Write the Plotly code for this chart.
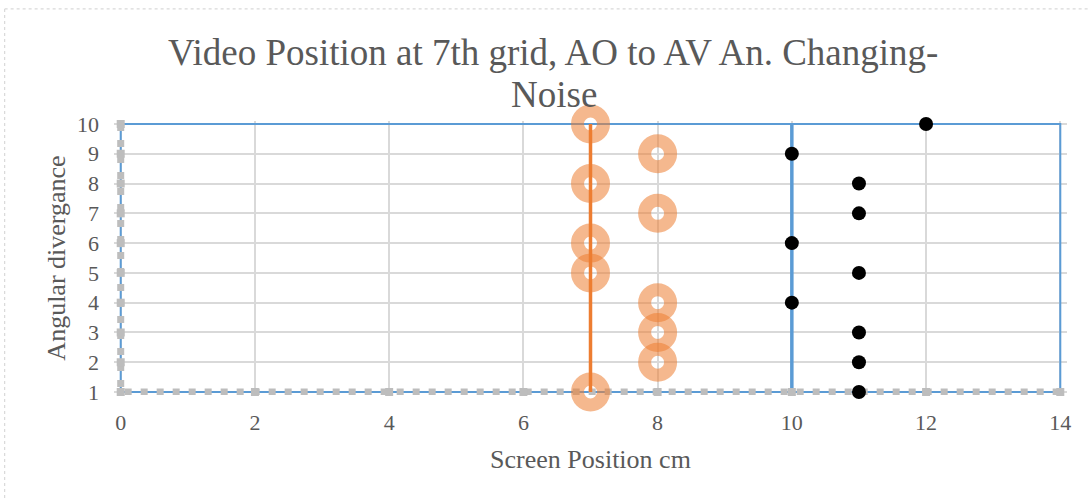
import plotly.graph_objects as go

# Data series (screen position cm, angular divergence)
orange_x = [7, 7, 7, 7, 7, 8, 8, 8, 8, 8]
orange_y = [10, 8, 6, 5, 1, 9, 7, 4, 3, 2]

black_x = [10, 10, 10, 11, 11, 11, 11, 11, 11, 12]
black_y = [9, 6, 4, 8, 7, 5, 3, 2, 1, 10]

# Reference lines
orange_line_x = [7, 7]
orange_line_y = [1, 10]

blue_frame_x = [0, 0, 14, 14, 0]
blue_frame_y = [1, 10, 10, 1, 1]
blue_line_x = [10, 10]
blue_line_y = [1, 10]

gray_x = [0, 0, 0, 0, 0, 0, 0, 0, 0, 0, 2, 4, 6, 8, 10, 12, 14]
gray_y = [10, 9, 8, 7, 6, 5, 4, 3, 2, 1, 1, 1, 1, 1, 1, 1, 1]

x_ticks = [0, 2, 4, 6, 8, 10, 12, 14]
y_ticks = [1, 2, 3, 4, 5, 6, 7, 8, 9, 10]

W, H = 1089, 500
# pixel positions of the data frame (x 0..14, y 1..10)
X0, X1, Y_TOP, Y_BOT = 121, 1060, 124, 392
XPAD, YPAD = 0.1, 0.1          # small axis padding so frame lines aren't clipped
sx = (X1 - X0) / 14
sy = (Y_BOT - Y_TOP) / 9
ML = X0 - XPAD * sx
MR = W - (X1 + XPAD * sx)
MT = Y_TOP - YPAD * sy
MB = H - (Y_BOT + YPAD * sy)
PW, PH = W - ML - MR, H - MT - MB

FONT = "Liberation Serif"
TXT = "#595959"

fig = go.Figure()

fig.add_trace(go.Scatter(x=blue_frame_x, y=blue_frame_y, mode="lines",
                         line=dict(color="#5B9BD5", width=2),
                         cliponaxis=False, showlegend=False, hoverinfo="skip"))
fig.add_trace(go.Scatter(x=blue_line_x, y=blue_line_y, mode="lines",
                         line=dict(color="#5B9BD5", width=3.5),
                         cliponaxis=False, showlegend=False, hoverinfo="skip"))
fig.add_trace(go.Scatter(x=gray_x, y=gray_y, mode="lines+markers",
                         line=dict(color="#BDBDBD", width=7, dash="7px,9px"),
                         marker=dict(symbol="square", size=8, color="#BDBDBD"),
                         cliponaxis=False, showlegend=False))
fig.add_trace(go.Scatter(x=orange_x, y=orange_y, mode="markers",
                         marker=dict(symbol="circle-open", size=26,
                                     color="rgba(237,125,49,0.55)",
                                     line=dict(width=13)),
                         cliponaxis=False, showlegend=False))
fig.add_trace(go.Scatter(x=orange_line_x, y=orange_line_y, mode="lines",
                         line=dict(color="#ED7D31", width=3.5),
                         cliponaxis=False, showlegend=False, hoverinfo="skip"))
fig.add_trace(go.Scatter(x=black_x, y=black_y, mode="markers",
                         marker=dict(symbol="circle", size=14, color="#000000"),
                         cliponaxis=False, showlegend=False))


def px_x(X):
    return (X - ML) / PW


def px_y(Y):
    return (H - MB - Y) / PH


# Dotted outer chart border
border = dict(color="#D9D9D9", width=1.2, dash="dot")
fig.add_shape(type="line", xref="paper", yref="paper",
              x0=px_x(5), y0=px_y(9), x1=px_x(1095), y1=px_y(9), line=border)
fig.add_shape(type="line", xref="paper", yref="paper",
              x0=px_x(5), y0=px_y(9), x1=px_x(5), y1=px_y(505), line=border)

# Two-line chart title
title_font = dict(family=FONT, size=37, color=TXT)
fig.add_annotation(text="Video Position at 7th grid, AO to AV An. Changing-",
                   xref="paper", yref="paper", x=px_x(553), y=px_y(53),
                   xanchor="center", yanchor="middle", showarrow=False,
                   font=title_font)
fig.add_annotation(text="Noise", xref="paper", yref="paper",
                   x=px_x(554), y=px_y(95), xanchor="center", yanchor="middle",
                   showarrow=False, font=title_font)

fig.update_layout(
    width=W, height=H,
    margin=dict(l=ML, r=MR, t=MT, b=MB),
    paper_bgcolor="white", plot_bgcolor="white",
    font=dict(family=FONT, color=TXT),
    xaxis=dict(range=[0 - XPAD, 14 + XPAD], tickvals=x_ticks,
               ticktext=[str(v) for v in x_ticks],
               showgrid=True, gridcolor="#D9D9D9", gridwidth=1.5,
               zeroline=False, showline=False, ticks="",
               ticklabelstandoff=12,
               tickfont=dict(family=FONT, size=22, color=TXT),
               title=dict(text="Screen Position cm", standoff=15,
                          font=dict(family=FONT, size=26, color=TXT))),
    yaxis=dict(range=[1 - YPAD, 10 + YPAD], tickvals=y_ticks,
               ticktext=[str(v) for v in y_ticks],
               showgrid=True, gridcolor="#D9D9D9", gridwidth=1.5,
               zeroline=False, showline=False, ticks="",
               ticklabelstandoff=14,
               tickfont=dict(family=FONT, size=22, color=TXT),
               title=dict(text="Angular divergance", standoff=3,
                          font=dict(family=FONT, size=26, color=TXT))),
)

fig.write_html("out.html")
